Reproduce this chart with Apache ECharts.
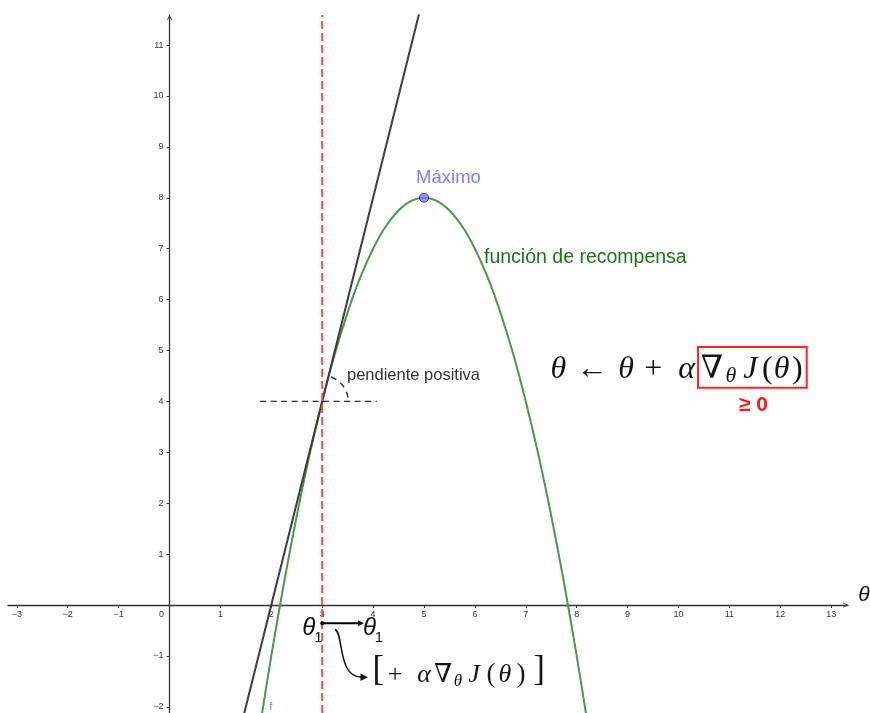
<!DOCTYPE html>
<html>
<head>
<meta charset="utf-8">
<title>Ascenso de gradiente</title>
<script src="https://cdn.jsdelivr.net/npm/echarts@6/dist/echarts.min.js"></script>
<style>
  html, body { margin: 0; padding: 0; background: #fff; }
  #chart { width: 870px; height: 713px; }
</style>
</head>
<body>
<div id="chart"></div>
<script>
// Reward function J(θ), sampled along θ
const thetaSamples = [1.75, 2, 2.25, 2.5, 2.75, 3, 3.25, 3.5, 3.75, 4, 4.25, 4.5, 4.75, 5,
                      5.25, 5.5, 5.75, 6, 6.25, 6.5, 6.75, 7, 7.25, 7.5, 7.75, 8, 8.25];
const rewardValues = [-2.56, -1, 0.44, 1.75, 2.94, 4, 4.94, 5.75, 6.44, 7, 7.44, 7.75, 7.94, 8,
                      7.94, 7.75, 7.44, 7, 6.44, 5.75, 4.94, 4, 2.94, 1.75, 0.44, -1, -2.56];

// Tangent line at the current parameter θ1
const tangentTheta = [1.4, 4.9];
const tangentValue = [-2.4, 11.6];

// Current parameter and its reward
const theta1 = 3;
const rewardAtTheta1 = 4;

// Horizontal reference through (θ1, J(θ1))
const levelTheta = [1.78, 4.07];

// Maximum of the reward
const maxTheta = 5;
const maxReward = 8;

// Update step drawn below the axis
const stepTheta = [3, 3.76];
const stepLevel = -0.36;

// Axis extents and tick values
const xRange = [-3.173, 13.33];
const yRange = [-2.122, 11.591];
const xTickValues = [-3, -2, -1, 0, 1, 2, 3, 4, 5, 6, 7, 8, 9, 10, 11, 12, 13];
const yTickValues = [-2, -1, 1, 2, 3, 4, 5, 6, 7, 8, 9, 10, 11];

const SANS = '"Liberation Sans", Arial, sans-serif';
const SERIF = '"Liberation Serif", "DejaVu Serif", serif';
const AXIS_COLOR = '#333';
const chevron = 'path://M0,10 L5,0 L10,10 L8.4,10 L5,3.2 L1.6,10 Z';

const W = 870, H = 713;
const GRID = { left: 8, right: 22, top: 15, bottom: 0 };
const plotW = W - GRID.left - GRID.right;
const plotH = H - GRID.top - GRID.bottom;
// the axes cross at the origin: shift each axis from the grid edge to zero
const xAxisShift = -((0 - yRange[0]) / (yRange[1] - yRange[0])) * plotH;
const yAxisShift = -((0 - xRange[0]) / (xRange[1] - xRange[0])) * plotW;

const fmtTick = v => (v < 0 ? '\u2212' + Math.abs(v) : String(v));

function glyph(text, cx, cy, size, italic, family, color, weight) {
  return {
    type: 'text', x: cx, y: cy, silent: true, z: 100,
    style: {
      text: text,
      fill: color || '#151515',
      font: (italic ? 'italic ' : '') + (weight ? weight + ' ' : '') + size + 'px ' + (family || SERIF),
      align: 'center',
      verticalAlign: 'middle'
    }
  };
}

// θ ← θ + α ∇θ J(θ)
const updateRule = [
  ['θ', 558.3, 370, 32, true], ['←', 592, 370, 32, false], ['θ', 626, 370, 32, true],
  ['+', 653.3, 370, 32, false], ['α', 686.7, 370, 32, true], ['∇', 711.8, 370, 32, false],
  ['θ', 730.8, 376.3, 22, true], ['J', 750.3, 370, 32, true], ['(', 767.3, 370, 32, false],
  ['θ', 781.5, 370, 32, true], [')', 797.3, 370, 32, false]
].map(g => glyph(g[0], g[1], g[2], g[3], g[4], SERIF));

// [+ α ∇θ J(θ)]
const stepRule = [
  ['[', 378.3, 671, 35, false], ['+', 395, 675, 26, false], ['α', 424, 675, 26, true],
  ['∇', 443, 675, 26, false], ['θ', 458, 682, 17, true], ['J', 474, 675, 26, true],
  ['(', 491, 675, 27, false], ['θ', 505, 675, 26, true], [')', 521, 675, 27, false],
  [']', 539, 671, 35, false]
].map(g => glyph(g[0], g[1], g[2], g[3], g[4], SERIF));

// θ1 labels at both ends of the step
const thetaLabels = [
  ['θ', 308.7, 628.5, 24, true], ['1', 318.5, 637.5, 15, false],
  ['θ', 369.5, 628.5, 24, true], ['1', 379, 637.5, 15, false]
].map(g => glyph(g[0], g[1], g[2], g[3], g[4], SANS, '#111'));

const chart = echarts.init(document.getElementById('chart'), null, { renderer: 'canvas' });

const option = {
  animation: false,
  backgroundColor: '#fff',
  grid: {
    left: GRID.left, right: GRID.right, top: GRID.top, bottom: GRID.bottom,
    containLabel: false, outerBoundsMode: 'none'
  },
  xAxis: {
    type: 'value',
    position: 'bottom',
    offset: xAxisShift,
    min: xRange[0], max: xRange[1],
    axisLine: {
      onZero: false,
      symbol: ['none', chevron], symbolSize: [6, 5], symbolOffset: [0, -2.5],
      lineStyle: { color: AXIS_COLOR, width: 1.3 }
    },
    axisTick: {
      show: true, length: 3, inside: false,
      customValues: xTickValues.filter(v => v !== 0),
      lineStyle: { color: AXIS_COLOR, width: 1 }
    },
    axisLabel: {
      customValues: xTickValues,
      margin: 5, fontSize: 9, color: '#333', fontFamily: SANS,
      formatter: v => (v === 0 ? '{z|0}' : fmtTick(v)),
      rich: { z: { padding: [0, 16, 0, 0], fontSize: 9, color: '#333', fontFamily: SANS } }
    },
    splitLine: { show: false }
  },
  yAxis: {
    type: 'value',
    position: 'left',
    offset: yAxisShift,
    min: yRange[0], max: yRange[1],
    axisLine: {
      onZero: false,
      symbol: ['none', chevron], symbolSize: [6, 5], symbolOffset: [0, -2.5],
      lineStyle: { color: AXIS_COLOR, width: 1.3 }
    },
    axisTick: {
      show: true, length: 3, inside: false,
      customValues: yTickValues,
      lineStyle: { color: AXIS_COLOR, width: 1 }
    },
    axisLabel: {
      customValues: yTickValues,
      margin: 6, fontSize: 9, color: '#333', fontFamily: SANS,
      formatter: v => fmtTick(v)
    },
    splitLine: { show: false }
  },
  series: [
    {
      name: 'función de recompensa',
      type: 'line',
      data: thetaSamples.map((t, i) => [t, rewardValues[i]]),
      smooth: 0.33,
      showSymbol: false,
      lineStyle: { color: '#4b984b', width: 2 },
      z: 2, silent: true
    },
    {
      name: 'tangente',
      type: 'line',
      data: tangentTheta.map((t, i) => [t, tangentValue[i]]),
      showSymbol: false,
      lineStyle: { color: '#3c3c3c', width: 2 },
      z: 3, silent: true
    },
    {
      name: 'nivel',
      type: 'line',
      data: levelTheta.map(t => [t, rewardAtTheta1]),
      showSymbol: false,
      lineStyle: { color: '#2a2a2a', width: 1.4, type: [6, 4.5] },
      z: 3, silent: true
    },
    {
      name: 'θ1',
      type: 'line',
      data: [[theta1, yRange[0]], [theta1, yRange[1]]],
      showSymbol: false,
      lineStyle: { color: '#ff4848', width: 2, type: [8, 4] },
      z: 5, silent: true
    },
    {
      name: 'pendiente',
      type: 'custom',
      data: [[theta1, rewardAtTheta1]],
      z: 4, silent: true,
      renderItem: (params, api) => {
        const c = api.coord([api.value(0), api.value(1)]);
        const up = api.coord([tangentTheta[1], tangentValue[1]]);
        const ang = Math.atan2(up[1] - c[1], up[0] - c[0]);
        return {
          type: 'arc',
          shape: { cx: c[0], cy: c[1], r: 26, startAngle: ang + 0.1, endAngle: -0.06, clockwise: true },
          style: { stroke: '#2a2a2a', fill: null, lineWidth: 1.4, lineDash: [6, 5] }
        };
      }
    },
    {
      name: 'paso',
      type: 'line',
      data: [
        { value: [stepTheta[0], stepLevel], symbol: 'circle', symbolSize: 4 },
        { value: [stepTheta[1], stepLevel], symbol: 'triangle', symbolSize: [6, 6], symbolRotate: -90 }
      ],
      showSymbol: true,
      lineStyle: { color: '#000', width: 2 },
      itemStyle: { color: '#000' },
      z: 6, silent: true
    },
    {
      name: 'Máximo',
      type: 'scatter',
      data: [[maxTheta, maxReward]],
      symbol: 'circle', symbolSize: 9,
      itemStyle: { color: '#7b7bff', borderColor: '#1e1e3c', borderWidth: 1 },
      label: {
        show: true, position: 'top', distance: 5, offset: [24.5, 0],
        formatter: 'Máximo', color: '#5c5cff', fontSize: 18.5, fontFamily: SANS
      },
      z: 7, silent: true
    }
  ],
  graphic: [
    // axis name
    glyph('θ', 864, 595, 21, true, SANS, '#111'),
    // curve labels
    {
      type: 'text', x: 484, y: 257.3, silent: true, z: 100,
      style: { text: 'función de recompensa', fill: '#1a751a', font: '19.5px ' + SANS, align: 'left', verticalAlign: 'middle' }
    },
    {
      type: 'text', x: 271, y: 707, silent: true, z: 100,
      style: { text: 'f', fill: '#4b984b', font: '10px ' + SANS, align: 'center', verticalAlign: 'middle' }
    },
    {
      type: 'text', x: 347, y: 375.2, silent: true, z: 100,
      style: { text: 'pendiente positiva', fill: '#333', font: '16.5px ' + SANS, align: 'left', verticalAlign: 'middle' }
    },
    // update rule with the gradient boxed
    ...updateRule,
    {
      type: 'rect', silent: true, z: 100,
      shape: { x: 698, y: 347, width: 108.7, height: 40.7 },
      style: { fill: null, stroke: '#ff2424', lineWidth: 2 }
    },
    glyph('≥ 0', 753.5, 405.5, 21, false, SANS, '#ff1a1a', 'bold'),
    // step annotation below the axis
    ...thetaLabels,
    {
      type: 'bezierCurve', silent: true, z: 100,
      shape: { x1: 335, y1: 629.5, cpx1: 344, cpy1: 633, cpx2: 337, cpy2: 677.5, x2: 362, y2: 677.3 },
      style: { stroke: '#111', lineWidth: 1.5, fill: null }
    },
    {
      type: 'polygon', silent: true, z: 100,
      shape: { points: [[368, 677.3], [360.5, 673.6], [360.5, 681]] },
      style: { fill: '#111' }
    },
    ...stepRule
  ]
};

chart.setOption(option);
</script>
</body>
</html>
